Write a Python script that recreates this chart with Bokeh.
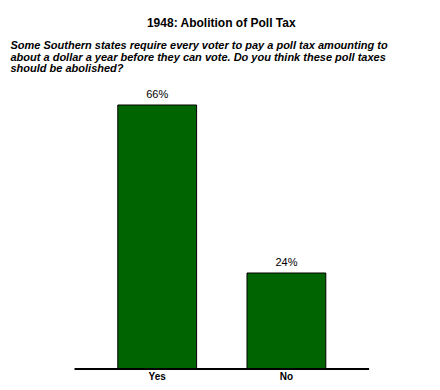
from bokeh.plotting import figure
from bokeh.models import ColumnDataSource, Range1d, Label
from bokeh.core.properties import value
from bokeh.embed import file_html
from bokeh.resources import INLINE

# ---- data ----
categories = ["Yes", "No"]
percentages = [66, 24]
value_labels = ["66%", "24%"]
title_text = "1948: Abolition of Poll Tax"
question_lines = [
    "Some Southern states require every voter to pay a poll tax amounting to",
    "about a dollar a year before they can vote. Do you think these poll taxes",
    "should be abolished?",
]

# ---- layout constants ----
W, H = 424, 382
PX_PER_CAT = 129.2
PX_PER_PCT = 4.0
X0_PX = 156.7          # pixel position of first category centre
Y0_PX = 368.5          # pixel position (from top) of zero line

xpos = list(range(len(categories)))
src = ColumnDataSource(dict(x=xpos, top=percentages, cat=categories, lab=value_labels))

x_start = -X0_PX / PX_PER_CAT
y_start = -(H - Y0_PX) / PX_PER_PCT

p = figure(width=W, height=H, output_backend="svg", toolbar_location=None,
           x_range=Range1d(x_start, x_start + W / PX_PER_CAT),
           y_range=Range1d(y_start, y_start + H / PX_PER_PCT),
           min_border=0, min_border_left=0, min_border_right=0,
           min_border_top=0, min_border_bottom=0)
p.axis.visible = False
p.grid.visible = False
p.outline_line_color = None
p.background_fill_color = "white"
p.border_fill_color = "white"

p.vbar(x="x", top="top", bottom=0, width=0.61, source=src,
       fill_color="#006400", line_color="black", line_width=1)

# baseline
p.segment(x0=[xpos[0] - 0.64], x1=[xpos[-1] + 0.64], y0=[0], y1=[0],
          line_color="black", line_width=2)

# value labels
p.text(x="x", y="top", text="lab", source=src, text_align="center",
       text_baseline="alphabetic", y_offset=-11.3, text_font_size="11px",
       text_font=value("Liberation Sans"), text_color="black")

# category labels
p.text(x="x", y=0, text="cat", source=src, text_align="center",
       text_baseline="alphabetic", y_offset=7.5, text_font_size="10px",
       text_font_style="bold", text_font=value("Liberation Sans"),
       text_color="black")

# title
p.add_layout(Label(x=221, y=H - 22, x_units="screen", y_units="screen",
                   text=title_text, text_align="center", text_baseline="alphabetic",
                   text_font="Liberation Sans", text_font_size="12px",
                   text_font_style="bold", text_color="black"))

# question
for i, line in enumerate(question_lines):
    p.add_layout(Label(x=10, y=H - (44.5 + 11.7 * i), x_units="screen", y_units="screen",
                       text=line, text_align="left", text_baseline="alphabetic",
                       text_font="Liberation Sans", text_font_size="11px",
                       text_font_style="bold italic", text_color="black"))

open("out.html", "w").write(file_html(p, INLINE))
